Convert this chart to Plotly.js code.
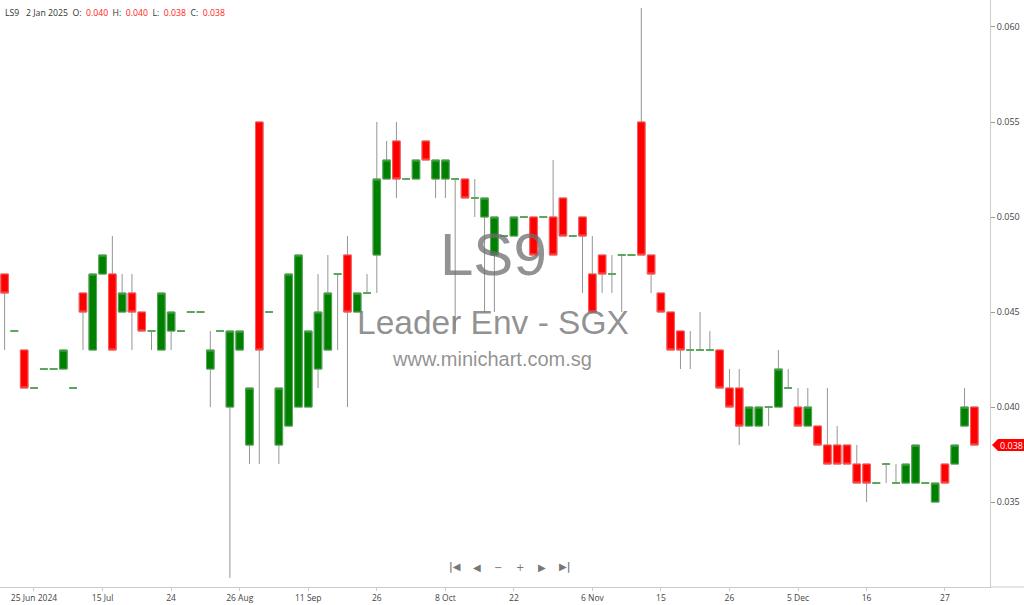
<!DOCTYPE html>
<html><head><meta charset="utf-8">
<script src="https://cdn.plot.ly/plotly-3.0.1.min.js"></script>
<style>html,body{margin:0;padding:0;background:#fff;overflow:hidden;} #chart{width:1024px;height:605px;}</style>
</head><body><div id="chart"></div>
<script>
// ---- data ----
const symbol = 'LS9';
const company = 'Leader Env - SGX';
const site = 'www.minichart.com.sg';
const lastDate = '2 Jan 2025';

const openP = [0.047,0.044,0.043,0.041,0.042,0.042,0.042,0.041,0.046,0.043,
  0.047,0.047,0.045,0.046,0.045,0.044,0.043,0.044,0.044,0.045,
  0.045,0.042,0.044,0.040,0.043,0.038,0.055,0.045,0.038,0.039,
  0.040,0.040,0.042,0.043,0.047,0.048,0.045,0.046,0.048,0.052,
  0.054,0.052,0.052,0.054,0.052,0.052,0.052,0.052,0.051,0.050,
  0.048,0.049,0.049,0.050,0.050,0.050,0.050,0.051,0.049,0.050,
  0.047,0.048,0.047,0.048,0.048,0.055,0.048,0.046,0.045,0.044,
  0.043,0.043,0.043,0.043,0.041,0.041,0.039,0.039,0.040,0.040,
  0.041,0.040,0.039,0.039,0.038,0.038,0.038,0.037,0.037,0.036,
  0.037,0.036,0.036,0.036,0.036,0.035,0.037,0.037,0.039,0.040];
const highP = [0.047,0.044,0.043,0.041,0.042,0.042,0.043,0.041,0.046,0.047,
  0.048,0.049,0.047,0.047,0.045,0.044,0.046,0.045,0.044,0.045,
  0.045,0.044,0.044,0.044,0.044,0.041,0.055,0.045,0.041,0.047,
  0.048,0.044,0.047,0.048,0.047,0.049,0.046,0.047,0.055,0.054,
  0.055,0.052,0.053,0.054,0.053,0.053,0.052,0.052,0.052,0.051,
  0.050,0.049,0.050,0.050,0.050,0.050,0.053,0.051,0.049,0.050,
  0.049,0.048,0.048,0.048,0.048,0.061,0.048,0.046,0.045,0.044,
  0.044,0.045,0.044,0.043,0.042,0.042,0.040,0.040,0.040,0.043,
  0.042,0.041,0.041,0.039,0.041,0.039,0.038,0.038,0.037,0.036,
  0.037,0.037,0.037,0.038,0.036,0.036,0.037,0.038,0.041,0.040];
const lowP = [0.043,0.044,0.041,0.041,0.042,0.042,0.042,0.041,0.043,0.043,
  0.047,0.043,0.045,0.043,0.044,0.043,0.043,0.043,0.044,0.045,
  0.045,0.040,0.044,0.031,0.043,0.037,0.037,0.045,0.037,0.039,
  0.040,0.040,0.041,0.043,0.043,0.040,0.045,0.046,0.046,0.052,
  0.051,0.052,0.052,0.053,0.051,0.051,0.044,0.051,0.050,0.045,
  0.045,0.049,0.049,0.050,0.048,0.050,0.048,0.049,0.049,0.046,
  0.045,0.046,0.046,0.045,0.048,0.048,0.046,0.045,0.043,0.042,
  0.042,0.043,0.043,0.041,0.040,0.038,0.039,0.039,0.039,0.040,
  0.041,0.039,0.039,0.038,0.037,0.037,0.037,0.036,0.035,0.036,
  0.036,0.036,0.036,0.036,0.036,0.035,0.036,0.037,0.039,0.038];
const closeP = [0.046,0.044,0.041,0.041,0.042,0.042,0.043,0.041,0.045,0.047,
  0.048,0.043,0.046,0.045,0.044,0.044,0.046,0.045,0.044,0.045,
  0.045,0.043,0.044,0.044,0.044,0.041,0.043,0.045,0.041,0.047,
  0.048,0.044,0.045,0.046,0.047,0.045,0.046,0.046,0.052,0.053,
  0.052,0.052,0.053,0.053,0.053,0.053,0.052,0.051,0.051,0.051,
  0.050,0.049,0.050,0.050,0.048,0.050,0.048,0.049,0.049,0.049,
  0.045,0.047,0.047,0.048,0.048,0.048,0.047,0.045,0.043,0.043,
  0.043,0.043,0.043,0.041,0.040,0.039,0.040,0.040,0.040,0.042,
  0.041,0.039,0.040,0.038,0.037,0.037,0.037,0.036,0.036,0.036,
  0.037,0.036,0.037,0.038,0.036,0.036,0.036,0.038,0.040,0.038];

const tickIdx = [3,10,17,24,31,38,45,52,60,67,74,81,88,96];
const tickLabels = ['25 Jun 2024','15 Jul','24','26 Aug','11 Sep','26','8 Oct','22','6 Nov','15','26','5 Dec','16','27'];
const yTicks = [0.035,0.040,0.045,0.050,0.055,0.060];

// ---- build traces ----
const idx = openP.map((_, i) => i);
const GREEN = '#008000', GREEN_EDGE = '#52a852';
const RED = '#ff0000', RED_EDGE = '#ff5a5a';
const WICK = '#959595';

function subset(cond) {
  const s = {x: [], o: [], h: [], l: [], c: []};
  idx.forEach(i => {
    if (cond(i)) {
      s.x.push(i); s.o.push(openP[i]); s.c.push(closeP[i]);
      s.h.push(Math.max(openP[i], closeP[i]));
      s.l.push(Math.min(openP[i], closeP[i]));
    }
  });
  return s;
}
const up = subset(i => closeP[i] >= openP[i]);
const dn = subset(i => closeP[i] < openP[i]);

function style(col, fill) {
  return {line: {color: col, width: 1}, fillcolor: fill};
}
const wickTrace = {
  type: 'candlestick', x: idx, open: openP, high: highP, low: lowP, close: closeP,
  increasing: style(WICK, 'rgba(0,0,0,0)'), decreasing: style(WICK, 'rgba(0,0,0,0)'),
  whiskerwidth: 0, hoverinfo: 'skip', showlegend: false
};
const upTrace = {
  type: 'candlestick', x: up.x, open: up.o, high: up.h, low: up.l, close: up.c,
  increasing: style(GREEN_EDGE, GREEN), decreasing: style(GREEN_EDGE, GREEN),
  whiskerwidth: 0, hoverinfo: 'skip', showlegend: false
};
const dnTrace = {
  type: 'candlestick', x: dn.x, open: dn.o, high: dn.h, low: dn.l, close: dn.c,
  increasing: style(RED_EDGE, RED), decreasing: style(RED_EDGE, RED),
  whiskerwidth: 0, hoverinfo: 'skip', showlegend: false
};

const n = openP.length;
const lastO = openP[n-1], lastH = highP[n-1], lastL = lowP[n-1], lastC = closeP[n-1];
const f3 = v => v.toFixed(3);
const sp = '&nbsp;';
const redSpan = t => '<span style="color:#ff2020">' + t + '</span>';
const header = symbol + sp+sp+sp + lastDate + sp+sp + 'O:' + sp+sp + redSpan(f3(lastO)) + sp+sp +
  'H:' + sp+sp + redSpan(f3(lastH)) + sp+sp + 'L:' + sp+sp + redSpan(f3(lastL)) + sp+sp +
  'C:' + sp+sp + redSpan(f3(lastC));

const FONT = 'Open Sans, Noto Sans, sans-serif';
const WM = 'Liberation Sans, Arial, sans-serif';
const navIcons = ['<b>|</b>◀', '◀', '−', '+', '▶', '▶<b>|</b>'];
const navX = [0.4596, 0.4818, 0.503, 0.5253, 0.5475, 0.5697];

const annotations = [
  {xref: 'paper', yref: 'paper', x: 0, y: 1, xanchor: 'left', yanchor: 'top', xshift: 3, yshift: -5,
   text: header, showarrow: false, font: {family: FONT, size: 8.7, color: '#333'}},
  {xref: 'paper', yref: 'paper', x: 0.498, y: 0.567, text: symbol, showarrow: false,
   font: {family: WM, size: 60, color: 'rgba(110,110,110,0.75)'}},
  {xref: 'paper', yref: 'paper', x: 0.498, y: 0.451, text: company, showarrow: false,
   font: {family: WM, size: 33.5, color: 'rgba(110,110,110,0.75)'}},
  {xref: 'paper', yref: 'paper', x: 0.497, y: 0.388, text: site, showarrow: false,
   font: {family: WM, size: 20, color: 'rgba(110,110,110,0.75)'}},
  {xref: 'paper', yref: 'y', x: 1, y: lastC, xanchor: 'left', yanchor: 'middle', xshift: 8,
   text: f3(lastC), showarrow: false, font: {family: FONT, size: 9, color: '#ffffff'}}
];
navIcons.forEach((t, k) => annotations.push({
  xref: 'paper', yref: 'paper', x: navX[k], y: 0.0204, text: t, showarrow: false,
  font: {family: 'DejaVu Sans, sans-serif', size: 10, color: '#777'}
}));

const layout = {
  width: 1024, height: 605,
  margin: {l: 0, r: 34, t: 0, b: 18, pad: 0},
  paper_bgcolor: '#ffffff', plot_bgcolor: '#ffffff',
  showlegend: false, hovermode: false, dragmode: false,
  boxgap: 0.23, boxgroupgap: 0,
  xaxis: {
    range: [-0.47, 100.6], tickmode: 'array', tickvals: tickIdx, ticktext: tickLabels,
    showline: true, linecolor: '#cccccc', linewidth: 1,
    ticks: 'outside', ticklen: 3, tickcolor: '#cccccc', tickwidth: 1,
    tickfont: {family: FONT, size: 8.5, color: '#444'},
    showgrid: false, zeroline: false, rangeslider: {visible: false}, fixedrange: true
  },
  yaxis: {
    side: 'right', range: [0.03053, 0.06142], tickmode: 'array', tickvals: yTicks,
    tickformat: '.3f', showline: true, linecolor: '#cccccc', linewidth: 1,
    ticks: 'outside', ticklen: 4, tickcolor: '#999999', tickwidth: 1,
    tickfont: {family: FONT, size: 9, color: '#444'},
    showgrid: false, zeroline: false, fixedrange: true
  },
  shapes: [
    {type: 'line', xref: 'paper', yref: 'paper', x0: 1, x1: 1.04, y0: 0, y1: 0,
     line: {color: '#cccccc', width: 1}},
    {type: 'path', xref: 'paper', yref: 'y', xsizemode: 'pixel', ysizemode: 'pixel',
     xanchor: 1, yanchor: lastC,
     path: 'M 2 0 L 8 -6 L 36 -6 L 36 6 L 8 6 Z',
     fillcolor: '#ff0000', line: {width: 0}}
  ],
  annotations: annotations
};

Plotly.newPlot('chart', [wickTrace, upTrace, dnTrace], layout, {displayModeBar: false, staticPlot: true});
</script>
</body></html>
